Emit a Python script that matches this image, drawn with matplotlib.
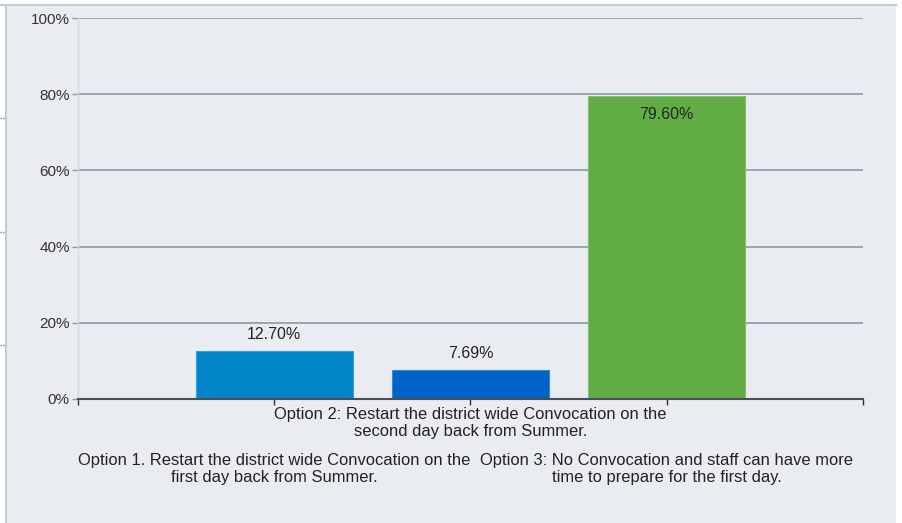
import matplotlib.pyplot as plt
from matplotlib.patches import Rectangle
from matplotlib.lines import Line2D

options = [
    "Option 1. Restart the district wide Convocation on the\nfirst day back from Summer.",
    "Option 2: Restart the district wide Convocation on the\nsecond day back from Summer.",
    "Option 3: No Convocation and staff can have more\ntime to prepare for the first day.",
]
shares = [12.70, 7.69, 79.60]
bar_colors = ["#0086C8", "#0063C8", "#62AC46"]
y_ticks = [0, 20, 40, 60, 80, 100]

plt.rcParams["font.family"] = ["Liberation Sans", "DejaVu Sans"]
fs = 11

bg = "#E9EDF1"
fig = plt.figure(figsize=(9.03, 5.23), dpi=100, facecolor="white")

# panel background with thin border lines on top/left
fig.patches.append(Rectangle((6 / 903, 0), 890 / 903, 1 - 5 / 523,
                             transform=fig.transFigure, facecolor=bg,
                             edgecolor="none", zorder=-10))
fig.lines.append(Line2D([0, 896 / 903], [1 - 4.5 / 523] * 2, transform=fig.transFigure,
                        color="#C3CBD3", lw=1.5, zorder=-9))
fig.lines.append(Line2D([6 / 903] * 2, [0, 1 - 4.5 / 523], transform=fig.transFigure,
                        color="#C3CBD3", lw=1.5, zorder=-9))
for yy in [118, 232, 345]:
    fig.lines.append(Line2D([0, 5 / 903], [1 - yy / 523] * 2, transform=fig.transFigure,
                            color="#7A8590", lw=1, ls=(0, (1, 1)), zorder=-9))

ax = fig.add_axes([78 / 903, 1 - 399 / 523, 785 / 903, 381 / 523])
ax.set_facecolor(bg)

x = [1, 2, 3]
ax.bar(x, shares, width=0.8, color=bar_colors, edgecolor=["#3AA0D8", "#3A85D8", "#80BE68"],
       linewidth=0.8, zorder=3)

for xi, v in zip(x, shares):
    if v > 50:
        ax.text(xi, v - 3.0, f"{v:.2f}%", ha="center", va="top", fontsize=11.5,
                color="#1E2A1E", zorder=4)
    else:
        ax.text(xi, v + 2.2, f"{v:.2f}%", ha="center", va="bottom", fontsize=11.5,
                color="#222222", zorder=4)

ax.set_xlim(0, 4)
ax.set_ylim(0, 100)
ax.set_yticks(y_ticks)
ax.set_yticklabels([f"{t}%" for t in y_ticks], fontsize=fs, color="#333333")
ax.yaxis.grid(True, color="#8C99A3", linewidth=1.2, zorder=1)
ax.set_axisbelow(True)

ax.set_xticks([0, 1, 2, 3, 4])
ax.set_xticklabels([])
ax.tick_params(axis="x", length=4, width=1, color="#333333", direction="out")
ax.tick_params(axis="y", length=4, width=1, color="#8C99A3", pad=2)

# staggered category labels like the original
for xi, lab in zip(x, options):
    row_y = -2.2 if xi == 2 else -14.2
    ax.text(xi, row_y, lab, ha="center", va="top", fontsize=11.9, color="#222222",
            linespacing=1.12, transform=ax.transData, clip_on=False)

for s in ["top", "right"]:
    ax.spines[s].set_visible(False)
ax.spines["left"].set_color("#D3DAE2")
ax.spines["left"].set_linewidth(1)
ax.spines["bottom"].set_color("#4A4F55")
ax.spines["bottom"].set_linewidth(1.5)
ax.spines["bottom"].set_zorder(5)

fig.savefig("out.png", dpi=100, facecolor="white")
